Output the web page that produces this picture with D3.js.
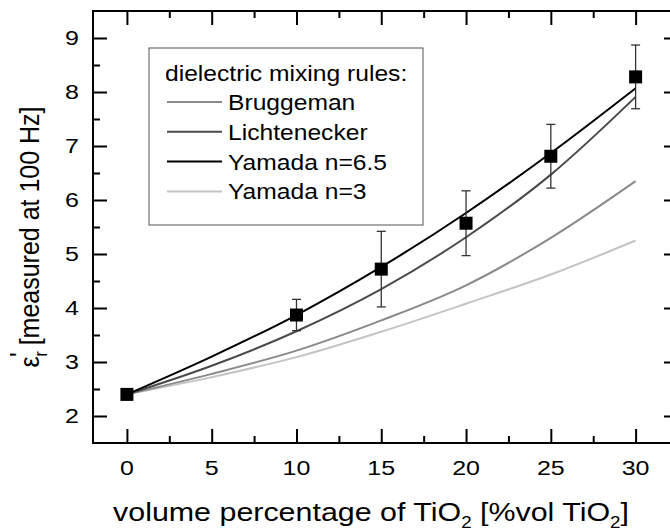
<!DOCTYPE html>
<html>
<head>
<meta charset="utf-8">
<script src="https://cdn.jsdelivr.net/npm/d3@7"></script>
<style>
  body { margin: 0; background: #fff; }
  text { font-family: "Liberation Sans", Arial, sans-serif; fill: #000; }
</style>
</head>
<body>
<div id="chart"></div>
<script>
// measured points
const pctVol = [0, 10, 15, 20, 25, 30];
const epsMeasured = [2.40, 3.87, 4.72, 5.57, 6.81, 8.28];
const epsErr = [0, 0.29, 0.70, 0.60, 0.59, 0.59];

// mixing rule curves
const curveX = [0, 5, 10, 15, 20, 25, 30];
const bruggeman = [2.40, 2.78, 3.21, 3.77, 4.42, 5.30, 6.35];
const lichtenecker = [2.40, 2.93, 3.57, 4.35, 5.31, 6.47, 7.91];
const yamada65 = [2.40, 3.10, 3.87, 4.76, 5.76, 6.87, 8.07];
const yamada3 = [2.40, 2.72, 3.09, 3.56, 4.08, 4.62, 5.25];

const xTicks = [0, 5, 10, 15, 20, 25, 30];
const yTicks = [2, 3, 4, 5, 6, 7, 8, 9];

const legendTitle = "dielectric mixing rules:";
const ruleNames = ["Bruggeman", "Lichtenecker", "Yamada n=6.5", "Yamada n=3"];
const ruleColors = ["#8a8a8a", "#4a4a4a", "#000000", "#c4c4c4"];
const ruleValues = [bruggeman, lichtenecker, yamada65, yamada3];

const width = 670, height = 532;

const svg = d3.select("#chart").append("svg")
    .attr("width", width)
    .attr("height", height);

const x = d3.scaleLinear().domain([-2, 32.5]).range([93, 678]);
const y = d3.scaleLinear().domain([1.5, 9.5]).range([443, 11]);

const line = d3.line()
    .x(d => x(d[0]))
    .y(d => y(d[1]))
    .curve(d3.curveMonotoneX);

// light ones underneath
[3, 0, 1, 2].forEach(i => {
    svg.append("path")
        .datum(curveX.map((v, j) => [v, ruleValues[i][j]]))
        .attr("d", line)
        .attr("fill", "none")
        .attr("stroke", ruleColors[i])
        .attr("stroke-width", 2);
});

// error bars
const pts = pctVol.map((v, i) => ({ x: v, y: epsMeasured[i], e: epsErr[i] }));
const eb = svg.append("g").attr("stroke", "#333").attr("stroke-width", 1.3);
pts.filter(d => d.e > 0).forEach(d => {
    eb.append("line")
        .attr("x1", x(d.x)).attr("x2", x(d.x))
        .attr("y1", y(d.y - d.e)).attr("y2", y(d.y + d.e));
    [d.y - d.e, d.y + d.e].forEach(v => {
        eb.append("line")
            .attr("x1", x(d.x) - 4.5).attr("x2", x(d.x) + 4.5)
            .attr("y1", y(v)).attr("y2", y(v));
    });
});

svg.selectAll("rect.pt")
    .data(pts)
    .enter()
    .append("rect")
    .attr("class", "pt")
    .attr("x", d => x(d.x) - 6.5)
    .attr("y", d => y(d.y) - 6.5)
    .attr("width", 13)
    .attr("height", 13)
    .attr("fill", "#000");

// frame
svg.append("rect")
    .attr("x", x(-2)).attr("y", y(9.5))
    .attr("width", x(32.5) - x(-2))
    .attr("height", y(1.5) - y(9.5))
    .attr("fill", "none")
    .attr("stroke", "#000")
    .attr("stroke-width", 2);

const majorLen = 14, minorLen = 7;
const xMinor = d3.range(2.5, 32.5, 5);
const yMinor = d3.range(2.5, 9.5, 1);

// ticks on all four sides, pointing inward
const axes = [
    { axis: d3.axisBottom(x), tr: `translate(0,${y(1.5)})` },
    { axis: d3.axisTop(x), tr: `translate(0,${y(9.5)})` },
    { axis: d3.axisLeft(y), tr: `translate(${x(-2)},0)` },
    { axis: d3.axisRight(y), tr: `translate(${x(32.5)},0)` }
];
axes.forEach((a, k) => {
    const isX = k < 2;
    [[isX ? xTicks : yTicks, majorLen], [isX ? xMinor : yMinor, minorLen]].forEach(([vals, len]) => {
        svg.append("g")
            .attr("transform", a.tr)
            .call(a.axis.tickValues(vals).tickSize(-len).tickFormat(""))
            .call(g => g.select(".domain").remove())
            .call(g => g.selectAll("line").attr("stroke", "#000").attr("stroke-width", 2));
    });
});

// tick labels
svg.append("g").selectAll("text")
    .data(xTicks)
    .enter()
    .append("text")
    .attr("transform", d => `translate(${x(d)},475) scale(1.25,1)`)
    .attr("text-anchor", "middle")
    .attr("font-size", 20)
    .text(d => d);

svg.append("g").selectAll("text")
    .data(yTicks)
    .enter()
    .append("text")
    .attr("transform", d => `translate(79,${y(d) + 7}) scale(1.25,1)`)
    .attr("text-anchor", "end")
    .attr("font-size", 20)
    .text(d => d);

// axis titles
const xt = svg.append("text")
    .attr("transform", `translate(371,521) scale(1.17,1)`)
    .attr("text-anchor", "middle")
    .attr("font-size", 26);
xt.append("tspan").text("volume percentage of TiO");
xt.append("tspan").attr("font-size", 16).attr("dy", 7).text("2");
xt.append("tspan").attr("dy", -7).text(" [%vol TiO");
xt.append("tspan").attr("font-size", 16).attr("dy", 7).text("2");
xt.append("tspan").attr("dy", -7).text("]");

const yt = svg.append("text")
    .attr("transform", `translate(39,237) scale(1.1,1) rotate(-90)`)
    .attr("text-anchor", "middle")
    .attr("font-size", 25);
yt.append("tspan").text("ε");
yt.append("tspan").attr("font-size", 16).attr("dy", 7).text("r");
yt.append("tspan").attr("dx", -6).attr("dy", -16).text("'");
yt.append("tspan").attr("dy", 9).text(" [measured at 100 Hz]");

// legend
const lg = svg.append("g");
lg.append("rect")
    .attr("x", 149).attr("y", 48)
    .attr("width", 274).attr("height", 177)
    .attr("fill", "#fff")
    .attr("stroke", "#555")
    .attr("stroke-width", 1);
lg.append("text")
    .attr("transform", `translate(165,81) scale(1.12,1)`)
    .attr("font-size", 22)
    .text(legendTitle);
ruleNames.forEach((name, i) => {
    const ly = 102 + i * 29.8;
    lg.append("line")
        .attr("x1", 167).attr("x2", 222)
        .attr("y1", ly).attr("y2", ly)
        .attr("stroke", ruleColors[i])
        .attr("stroke-width", 2);
    lg.append("text")
        .attr("transform", `translate(228,${ly + 8}) scale(1.12,1)`)
        .attr("font-size", 22)
        .text(name);
});
</script>
</body>
</html>
